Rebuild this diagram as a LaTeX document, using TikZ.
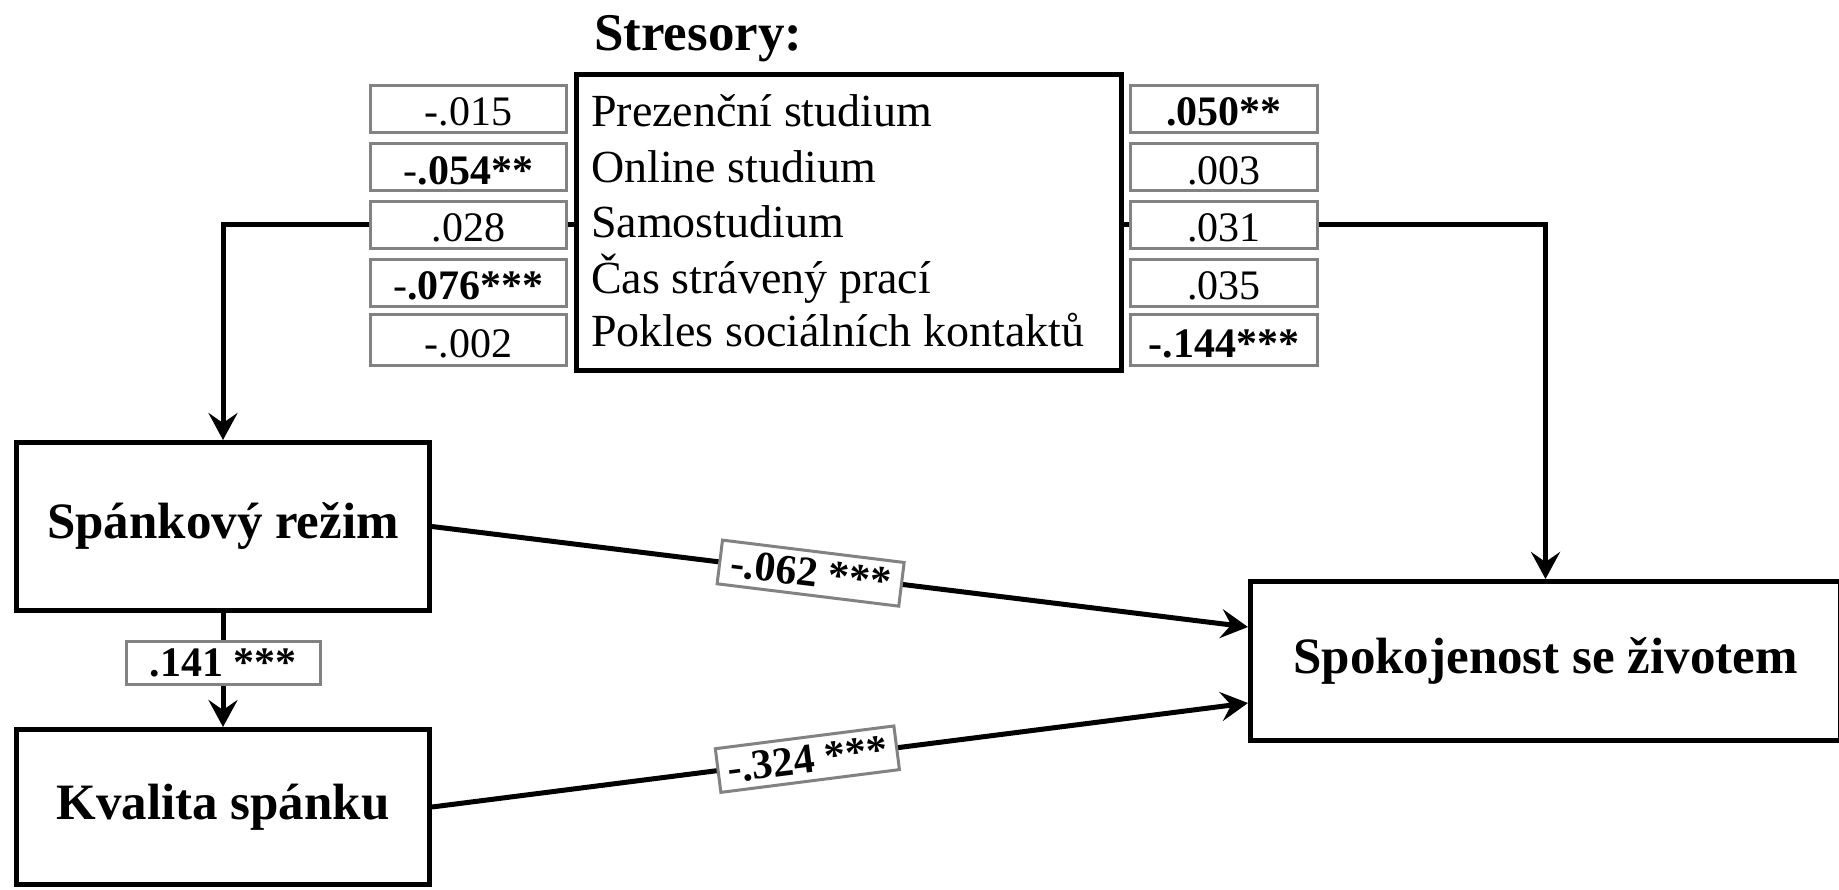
\documentclass[tikz,border=0pt]{standalone}
\usepackage{fontspec}
\setmainfont{Liberation Serif}
\usetikzlibrary{arrows.meta,calc}
\definecolor{boxgray}{RGB}{130,130,130}
\tikzset{
  bigbox/.style={draw=black, line width=5pt, fill=white, inner sep=0pt, font=\fontsize{51}{60}\selectfont\bfseries},
  listbox/.style={draw=black, line width=5pt, fill=white, inner sep=0pt},
  valbox/.style={draw=boxgray, line width=3pt, fill=white, inner sep=0pt, minimum width=196pt, minimum height=47pt, text height=34pt, text depth=0pt, font=\fontsize{42}{50}\selectfont},
  lblbox/.style={draw=boxgray, line width=3pt, fill=white, inner sep=0pt, font=\fontsize{42}{50}\selectfont\bfseries},
  listtext/.style={anchor=base west, inner sep=0pt, font=\fontsize{46}{55}\selectfont},
  plainline/.style={draw=black, line width=5pt},
  conn/.style={draw=black, line width=5pt, -{Stealth[length=27pt,width=29pt,inset=10pt]}},
}
\begin{document}
\begin{tikzpicture}[x=1pt,y=-1pt]
\useasboundingbox (0,0) rectangle (1839,889);
\fill[white] (0,0) rectangle (1839,889);

% title
\node[anchor=base west, inner sep=0pt, font=\fontsize{53}{62}\selectfont\bfseries] (title) at (594,50) {Stresory:};

% stressor list box
\node[listbox, minimum width=545pt, minimum height=296pt] (stress) at (849,222.5) {};
\node[listtext] (t1) at (591,126) {Prezenční studium};
\node[listtext] (t2) at (591,182) {Online studium};
\node[listtext] (t3) at (591,237) {Samostudium};
\node[listtext] (t4) at (591,293) {Čas strávený prací};
\node[listtext] (t5) at (591,346) {Pokles sociálních kontaktů};

% left values
\node[valbox] (l1) at (468.5,108.5) {-.015};
\node[valbox] (l2) at (468.5,167) {-\textbf{.054**}};
\node[valbox] (l3) at (468.5,224.5) {.028};
\node[valbox] (l4) at (468.5,282.5) {-\textbf{.076***}};
\node[valbox, minimum height=51pt] (l5) at (468.5,340) {-.002};

% right values
\node[valbox, minimum width=187pt] (r1) at (1224,108.5) {\textbf{.050**}};
\node[valbox, minimum width=187pt] (r2) at (1224,167) {.003};
\node[valbox, minimum width=187pt] (r3) at (1224,224.5) {.031};
\node[valbox, minimum width=187pt] (r4) at (1224,282.5) {.035};
\node[valbox, minimum width=187pt, minimum height=51pt] (r5) at (1224,340) {\textbf{-.144***}};

% main boxes
\node[bigbox, minimum width=413pt, minimum height=168pt] (rezim) at (223,526.5) {Spánkový režim};
\node[bigbox, minimum width=413pt, minimum height=155pt] (kvalita) at (223,807) {Kvalita spánku};
\node[bigbox, minimum width=590pt, minimum height=159pt] (spok) at (1545.5,661) {Spokojenost se životem};

% connectors from stressors
\draw[plainline] (l3.east) -- (l3.east -| stress.west);
\draw[conn] (l3.west) -| (rezim.north);
\draw[plainline] (stress.east |- r3.west) -- (r3.west);
\draw[conn] (r3.east) -| (spok.north);

% sleep paths
\draw[conn] (rezim.south) -- node[lblbox, pos=0.44, minimum width=194pt, minimum height=43pt] (b141) {.141 ***} (kvalita.north);
\draw[conn] (rezim.east) -- node[lblbox, sloped, pos=0.464, minimum width=183pt, minimum height=44pt] (b062) {-.062 ***} ($(spok.west)+(0,-34)$);
\draw[conn] (kvalita.east) -- node[lblbox, sloped, pos=0.46, minimum width=180pt, minimum height=44pt] (b324) {-.324 ***} ($(spok.west)+(0,42)$);
\end{tikzpicture}
\end{document}
